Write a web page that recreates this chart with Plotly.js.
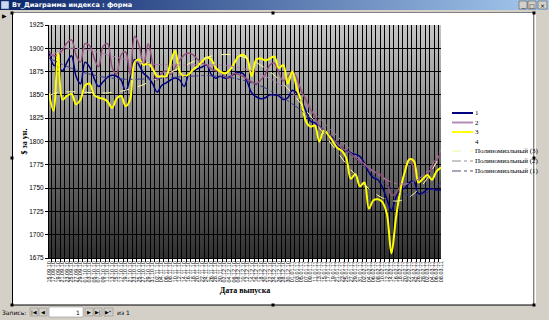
<!DOCTYPE html>
<html><head><meta charset="utf-8">
<script src="https://cdn.plot.ly/plotly-3.0.1.min.js"></script>
<style>html,body{margin:0;padding:0;background:#fff;overflow:hidden}#chart{width:549px;height:320px}</style>
</head><body><div id="chart"></div>
<script>
// ---------- DATA ----------
const dates = [
'15.09.10','17.09.10','19.09.10','21.09.10','23.09.10','25.09.10','27.09.10','29.09.10',
'01.10.10','03.10.10','05.10.10','07.10.10','09.10.10','11.10.10','13.10.10','15.10.10','17.10.10','19.10.10','21.10.10','23.10.10','25.10.10','27.10.10','29.10.10','31.10.10',
'02.11.10','04.11.10','06.11.10','08.11.10','10.11.10','12.11.10','14.11.10','16.11.10','18.11.10','20.11.10','22.11.10','24.11.10','26.11.10','28.11.10','30.11.10',
'02.12.10','04.12.10','06.12.10','08.12.10','10.12.10','12.12.10','14.12.10','16.12.10','18.12.10','20.12.10','22.12.10','24.12.10','26.12.10','28.12.10','30.12.10',
'01.01.11','03.01.11','05.01.11','07.01.11','09.01.11','11.01.11','13.01.11','15.01.11','17.01.11','19.01.11','21.01.11','23.01.11','25.01.11','27.01.11','29.01.11','31.01.11',
'02.02.11','04.02.11','06.02.11','08.02.11','10.02.11','12.02.11','14.02.11','16.02.11','18.02.11','20.02.11','22.02.11','24.02.11','26.02.11','28.02.11',
'02.03.11','04.03.11','06.03.11','08.03.11'];
const series1 = [1897,1882,1880,1876,1885,1892,1870,1862,1885,1880,1868,1859,1864,1869,1871,1870,1866,1854,1868,1888,
 1882,1873,1869,1862,1853,1860,1863,1866,1868,1866,1859,1872,1876,1878,1880,1882,1872,1868,1870,1868,
 1869,1872,1874,1873,1864,1852,1848,1846,1847,1850,1850,1849,1845,1847,1855,1852,1844,1833,1822,1820,
 1816,1812,1808,1804,1795,1791,1790,1788,1786,1784,1777,1767,1761,1759,1751,1738,1726,1740,1748,1750,
 1756,1757,1744,1745,1749,1749,1748,1748];
const series2 = [1896,1892,1893,1898,1906,1909,1893,1885,1905,1903,1890,1880,1902,1905,1880,1872,1893,1896,1872,1913,
 1903,1882,1905,1884,1866,1873,1876,1872,1880,1887,1893,1895,1893,1888,1884,1882,1878,1876,1875,1870,
 1868,1873,1872,1870,1867,1864,1862,1866,1872,1882,1884,1874,1865,1870,1875,1868,1854,1845,1835,1827,
 1816,1812,1809,1802,1798,1793,1790,1787,1782,1779,1776,1771,1768,1766,1763,1756,1742,1745,1753,1767,
 1782,1770,1758,1760,1766,1771,1779,1788];
const series3 = [1852,1833,1895,1845,1849,1851,1840,1845,1860,1862,1850,1847,1846,1843,1836,1846,1849,1838,1845,1885,
 1888,1882,1884,1878,1870,1870,1870,1885,1897,1875,1870,1872,1877,1881,1886,1890,1888,1879,1875,1873,
 1876,1883,1891,1893,1889,1870,1888,1889,1887,1889,1891,1879,1882,1862,1875,1857,1843,1822,1816,1817,
 1800,1812,1807,1800,1793,1790,1782,1760,1765,1752,1756,1728,1737,1738,1735,1722,1680,1718,1748,1768,
 1781,1779,1756,1760,1764,1759,1768,1772];
const series4 = [];
const seriesNames = ['1','2','3','4'];
const trendNames = ['Полиномиальный (3)','Полиномиальный (2)','Полиномиальный (1)'];
const yTickVals = [1675,1700,1725,1750,1775,1800,1825,1850,1875,1900,1925];

// ---------- helpers ----------
function polyTrend(ys, deg){
  const n = ys.length, h = (n-1)/2;
  const t = ys.map((_,i)=>(i-h)/h);
  const m = deg+1;
  const A = Array.from({length:m},()=>new Array(m+1).fill(0));
  for(let i=0;i<n;i++){
    for(let r=0;r<m;r++){
      for(let c=0;c<m;c++) A[r][c]+=Math.pow(t[i],r+c);
      A[r][m]+=ys[i]*Math.pow(t[i],r);
    }
  }
  for(let k=0;k<m;k++){
    let p=k; for(let r=k+1;r<m;r++) if(Math.abs(A[r][k])>Math.abs(A[p][k])) p=r;
    [A[k],A[p]]=[A[p],A[k]];
    for(let r=0;r<m;r++){ if(r===k) continue; const f=A[r][k]/A[k][k]; for(let c=k;c<=m;c++) A[r][c]-=f*A[k][c]; }
  }
  const coef = A.map((row,k)=>row[m]/row[k]);
  return t.map(v=>coef.reduce((s,a,k)=>s+a*Math.pow(v,k),0));
}
function gradImg(w,h,c1,c2,vertical){
  const c=document.createElement('canvas'); c.width=w; c.height=h;
  const ctx=c.getContext('2d');
  const g=ctx.createLinearGradient(0,0,vertical?0:w,vertical?h:0);
  g.addColorStop(0,c1); g.addColorStop(1,c2);
  ctx.fillStyle=g; ctx.fillRect(0,0,w,h);
  return c.toDataURL('image/png');
}
const PL=49, PR=441, PT=25, PB=258;
const px = x => (x-PL)/(PR-PL);
const py = y => (PB-y)/(PB-PT);

const C1='#000080', C2='#96507F', C3='#FFFF00';

const traces = [
  {x:dates, y:series1, name:seriesNames[0], type:'scatter', mode:'lines', line:{color:C1,width:1.5,shape:'spline',smoothing:1}},
  {x:dates, y:series2, name:seriesNames[1], type:'scatter', mode:'lines', line:{color:C2,width:1.5,shape:'spline',smoothing:1}},
  {x:dates, y:series3, name:seriesNames[2], type:'scatter', mode:'lines', line:{color:C3,width:2,shape:'spline',smoothing:1}},
  {x:[], y:series4, name:seriesNames[3], type:'scatter', mode:'lines', line:{color:'#ffffff',width:1}},
  {x:dates, y:polyTrend(series3,6), name:trendNames[0], type:'scatter', mode:'lines', line:{color:'#FFFF99',width:1,dash:'dash'}},
  {x:dates, y:polyTrend(series2,6), name:trendNames[1], type:'scatter', mode:'lines', line:{color:'#B07AA8',width:1,dash:'dashdot'}},
  {x:dates, y:polyTrend(series1,6), name:trendNames[2], type:'scatter', mode:'lines', line:{color:'#3A3A8A',width:1,dash:'dashdot'}}
];

const shapes = [];
const annotations = [];
function rectPx(x0,y0,x1,y1,fill,line,lw,layer){
  shapes.push({type:'rect',xref:'paper',yref:'paper',x0:px(x0),x1:px(x1),y0:py(y1),y1:py(y0),
    fillcolor:fill,line:{color:line||fill,width:lw===undefined?0:lw},layer:layer||'below'});
}
function linePx(x0,y0,x1,y1,color,w,dash,layer){
  shapes.push({type:'line',xref:'paper',yref:'paper',x0:px(x0),x1:px(x1),y0:py(y0),y1:py(y1),
    line:{color:color,width:w,dash:dash||'solid'},layer:layer||'above'});
}
function textPx(x,y,txt,opt){
  opt=opt||{};
  annotations.push({xref:'paper',yref:'paper',x:px(x),y:py(y),text:txt,showarrow:false,
    xanchor:opt.xa||'left',yanchor:'middle',borderpad:0,
    font:{family:opt.family||'DejaVu Sans',size:opt.size||7,color:opt.color||'#000',weight:opt.weight||'normal'}});
}

// window chrome
const GRAY='#D4D0C8';
rectPx(0,0,549,12,GRAY);
rectPx(0,305,549,320,GRAY);
rectPx(0,0,12,320,GRAY);
rectPx(534,0,549,320,GRAY);
linePx(535.5,12,535.5,305,'#FFFFFF',1);
linePx(12.5,12,12.5,305,'#000000',1);
linePx(12,305,534,305,'#000000',1);
linePx(12,12.5,534,12.5,'#808080',1);
linePx(533.5,12,533.5,305,'#808080',1);
[[12,13],[273,13],[534,13],[12,158],[534,158],[12,305],[273,305],[534,305]].forEach(([x,y])=>rectPx(x-1.5,y-1.5,x+1.5,y+1.5,'#000000','#000000',0,'above'));
textPx(1,15,'▶',{size:6});
// title bar buttons
[[519,527,'_'],[528,536,'□'],[538,547,'×']].forEach(([a,b,s])=>{
  rectPx(a,1,b,9,GRAY,'#404040',0.5,'above');
  textPx((a+b)/2,5,s,{size:6,xa:'center'});
});
rectPx(1,1,9,9,'#C8D8F0','#304070',0.5,'above');
textPx(11,5,'Вт_Диаграмма индекса : форма',{size:6.5,color:'#FFFFFF',weight:'bold'});
// record navigation bar
textPx(1,312,'Запись:',{size:6});
function navBtn(a,b,s){ rectPx(a,308,b,316,GRAY,'#808080',0.5,'below'); textPx((a+b)/2,312,s,{size:5,xa:'center'}); }
navBtn(30,38,'|◀'); navBtn(39,47,'◀');
rectPx(49,307,83,317,'#FFFFFF','#808080',0.5,'below');
textPx(81,312,'1',{size:6,xa:'right'});
navBtn(85,93,'▶'); navBtn(94,102,'▶|'); navBtn(104,113,'▶*');
textPx(116,312,'из 1',{size:6});

// manual legend
const legendRows = [
  {name:seriesNames[0], color:C1, w:2, dash:'solid'},
  {name:seriesNames[1], color:'#B48CB4', w:2, dash:'solid'},
  {name:seriesNames[2], color:C3, w:2, dash:'solid'},
  {name:seriesNames[3], color:'#FFFFFF', w:1, dash:'solid'},
  {name:trendNames[0], color:'#F4F4A0', w:1, dash:'dash'},
  {name:trendNames[1], color:'#9A8A9A', w:1, dash:'dashdot'},
  {name:trendNames[2], color:'#505070', w:1, dash:'dashdot'}
];
const legendY = [113,122.5,132,141.5,151,161,171];
legendRows.forEach((r,i)=>{
  linePx(452,legendY[i],473,legendY[i],r.color,r.w,r.dash);
  textPx(474,legendY[i],r.name,{family:'Liberation Serif',size:7});
});

const images = [
  {source:gradImg(4,256,'#C6C6C6','#303030',true),xref:'paper',yref:'paper',x:0,y:1,sizex:1,sizey:1,
   sizing:'stretch',xanchor:'left',yanchor:'top',layer:'below'},
  {source:gradImg(256,4,'#0A246A','#A6CAF0',false),xref:'paper',yref:'paper',x:px(0),y:py(0),sizex:549/392,sizey:10/233,
   sizing:'stretch',xanchor:'left',yanchor:'top',layer:'above'}
];

const layout = {
  width:549, height:320,
  margin:{l:PL, r:549-PR, t:PT, b:320-PB, pad:0},
  paper_bgcolor:'#FFFFFF', plot_bgcolor:'rgba(0,0,0,0)',
  showlegend:false,
  xaxis:{type:'category', tickmode:'array', tickvals:dates, ticktext:dates, tickson:'boundaries',
    showgrid:true, gridcolor:'#000000', gridwidth:1,
    ticks:'outside', ticklen:3, tickcolor:'#000', tickangle:-90,
    tickfont:{family:'Liberation Sans', size:5.5, color:'#000'},
    showline:true, linecolor:'#000', linewidth:1, zeroline:false, automargin:false,
    title:{text:'Дата выпуска', font:{family:'Liberation Serif', size:8, color:'#000', weight:'bold'}, standoff:5}},
  yaxis:{range:[1675,1925], tickvals:yTickVals, showgrid:true, gridcolor:'#000000', gridwidth:1,
    ticks:'outside', ticklen:3, tickcolor:'#000',
    tickfont:{family:'Liberation Sans', size:6.5, color:'#000'},
    showline:true, linecolor:'#000', linewidth:1, zeroline:false, automargin:false,
    title:{text:'$ за ун.', font:{family:'Liberation Serif', size:8, color:'#000', weight:'bold'}, standoff:0}},
  shapes:shapes, annotations:annotations, images:images
};
Plotly.newPlot('chart', traces, layout, {staticPlot:true, displayModeBar:false});
</script></body></html>
